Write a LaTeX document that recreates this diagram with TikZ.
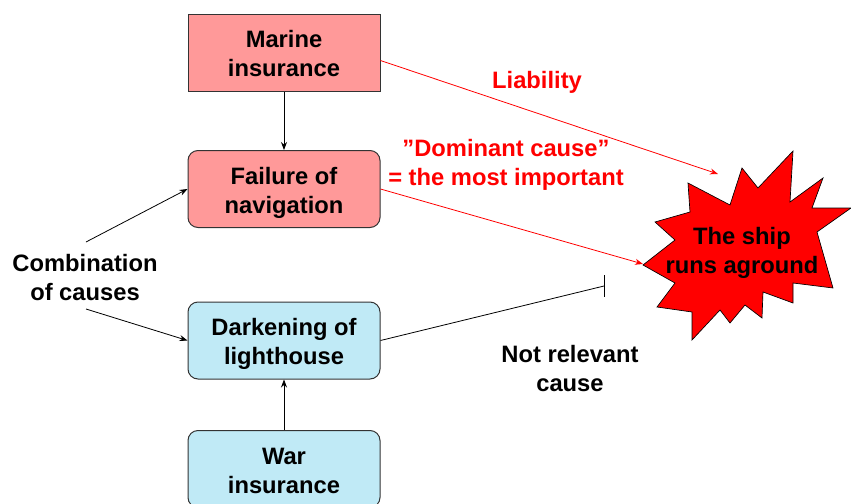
\documentclass[tikz,border=0pt]{standalone}
\usepackage{fontspec}
\setmainfont{Liberation Sans}
\usetikzlibrary{arrows.meta}
\definecolor{boxpink}{RGB}{255,153,153}
\definecolor{boxblue}{RGB}{192,234,246}

\begin{document}
\begin{tikzpicture}[x=0.75pt,y=-0.75pt,>={Stealth[length=6pt,width=4.5pt]},
	every node/.style={font=\bfseries\fontsize{17.8}{21.75}\selectfont,align=center},
	box/.style={draw=black!80,line width=0.75pt,minimum width=144pt,minimum height=57.75pt,inner sep=0pt,text height=40pt,text depth=4pt},
	roundbox/.style={box,rounded corners=7.5pt},
	redlabel/.style={text=red}]
		\useasboundingbox (0,0) rectangle (851,504);
		\clip (0,0) rectangle (851,504);
		% boxes
		\node[box,fill=boxpink] (marine) at (284,52.5) {Marine\\insurance};
		\node[roundbox,fill=boxpink] (failure) at (284,189) {Failure of\\navigation};
		\node[roundbox,fill=boxblue] (dark) at (284,340.5) {Darkening of\\lighthouse};
		\node[roundbox,fill=boxblue] (war) at (284,469) {War\\insurance};
		\node (comb) at (85,278) {Combination\\of causes};
		% the ship
		\draw[fill=red,line width=0.5pt] (643,265) -- (675,240) -- (655,222) -- (690,212) -- (688,183)
			-- (730,205) -- (742,168) -- (758,188) -- (793,151) -- (790,202) -- (823,178)
			-- (812,208) -- (851,208) -- (817,232) -- (833,288) -- (793,283) -- (793,303)
			-- (763,292) -- (762,318) -- (745,305) -- (730,323) -- (720,310) -- (692,340)
			-- (692,312) -- (657,307) -- (675,283) -- cycle;
		\node (ship) at (742,253) {The ship\\runs aground};
		\coordinate (liabend) at (718,174);
		\coordinate (domend) at (643,264);
		\coordinate (notend) at (604,286);
		\coordinate (combup) at (86,242);
		\coordinate (combdown) at (86,309);
		% connectors
		\draw[->,line width=0.6pt] (marine) -- (failure);
		\draw[->,line width=0.6pt] (war) -- (dark);
		\draw[->,line width=0.6pt] (combup) -- (failure.west);
		\draw[->,line width=0.6pt] (combdown) -- (dark.west);
		\draw[->,red,line width=0.6pt] (marine.east) ++(0,8) -- (liabend);
		\draw[->,red,line width=0.6pt] (failure.east) -- (domend);
		\draw[line width=0.6pt] (dark.east) -- (notend);
		\draw[line width=0.75pt] (notend) ++(0,-11) -- ++(0,22);
		% labels
		\node[redlabel] (liab) at (537,82) {Liability};
		\node[redlabel] (dom) at (506,164.5) {”Dominant cause”\\= the most important};
		\node (notrel) at (570,369) {Not relevant\\cause};
	\end{tikzpicture}
\end{document}
